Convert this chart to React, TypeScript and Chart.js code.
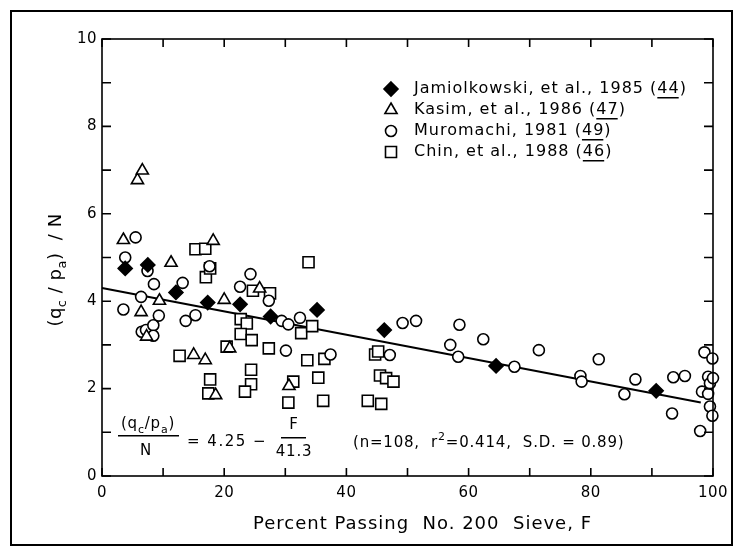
import React, { useEffect, useRef } from "react";
import { Chart, registerables } from "chart.js";
Chart.register(...registerables);

// ---- data ----
const jamiolkowski: number[][] = [
  [3.8, 4.75], [7.5, 4.83], [12.1, 4.2], [17.3, 3.97], [22.6, 3.93],
  [27.6, 3.65], [35.2, 3.8], [46.2, 3.34], [64.5, 2.52], [90.7, 1.95],
];
const kasim: number[][] = [
  [3.5, 5.4], [5.8, 6.77], [6.6, 6.99], [6.4, 3.75], [7.3, 3.19],
  [9.4, 4.01], [11.3, 4.88], [15.0, 2.77], [16.9, 2.65], [18.2, 5.38],
  [18.6, 1.85], [20.0, 4.03], [20.9, 2.92], [25.8, 4.29], [30.6, 2.06],
];
const muromachi: number[][] = [
  [3.5, 3.81], [3.8, 5.0], [5.5, 5.46], [6.4, 4.1], [6.5, 3.3],
  [7.2, 3.34], [7.45, 4.69], [8.4, 3.45], [8.4, 3.21], [8.5, 4.39],
  [9.3, 3.67], [13.2, 4.42], [13.7, 3.55], [15.3, 3.68], [17.6, 4.8],
  [22.6, 4.33], [24.3, 4.62], [27.3, 4.01], [29.4, 3.55], [30.5, 3.47],
  [30.1, 2.87], [32.4, 3.62], [37.4, 2.78], [47.1, 2.77], [49.2, 3.5],
  [51.4, 3.55], [57.0, 3.0], [58.3, 2.73], [58.5, 3.46], [62.4, 3.13],
  [67.5, 2.5], [71.5, 2.88], [78.3, 2.29], [78.5, 2.16], [81.3, 2.67],
  [85.5, 1.87], [87.3, 2.21], [93.3, 1.43], [93.5, 2.26], [95.4, 2.29],
  [97.9, 1.03], [98.2, 1.93], [98.6, 2.83], [99.2, 2.27], [99.2, 1.88],
  [99.5, 2.12], [99.5, 1.59], [99.9, 2.69], [99.9, 1.38], [100, 2.24],
];
const chin: number[][] = [
  [12.7, 2.75], [15.3, 5.19], [16.9, 5.2], [17.0, 4.55], [17.7, 4.75],
  [17.7, 2.21], [17.4, 1.89], [20.4, 2.96], [22.7, 3.59], [23.7, 3.49],
  [22.7, 3.25], [24.5, 3.11], [24.4, 2.43], [24.4, 2.1], [23.4, 1.93],
  [24.7, 4.24], [27.5, 4.18], [27.3, 2.92], [30.5, 1.68], [31.3, 2.16],
  [32.6, 3.27], [33.6, 2.65], [33.8, 4.89], [34.4, 3.43], [35.4, 2.25],
  [36.2, 1.72], [36.4, 2.68], [43.5, 1.72], [44.7, 2.78], [45.2, 2.85],
  [45.5, 2.3], [46.5, 2.24], [47.7, 2.16], [45.7, 1.65],
];
const regressionLine: number[][] = [[0, 4.3], [98, 1.68]];

const xTickLabels = [0, 20, 40, 60, 80, 100];
const yTickLabels = [0, 2, 4, 6, 8, 10];
const xMinorTicks = [0, 10, 20, 30, 40, 50, 60, 70, 80, 90, 100];
const yMinorTicks = [0, 1, 2, 3, 4, 5, 6, 7, 8, 9, 10];

const legendEntries = [
  { style: "diamond", pre: "Jamiolkowski, et al., 1985 (", ref: "44", post: ")" },
  { style: "triangle", pre: "Kasim, et al., 1986 (", ref: "47", post: ")" },
  { style: "circle", pre: "Muromachi, 1981 (", ref: "49", post: ")" },
  { style: "square", pre: "Chin, et al., 1988 (", ref: "46", post: ")" },
];

const FONT = '"DejaVu Sans", "Noto Sans", sans-serif';
const pts = (a: number[][]) => a.map(([x, y]) => ({ x, y }));

type Part = [string, "n" | "sub" | "sup"];

function setSpacing(ctx: any, px: number) {
  ctx.letterSpacing = `${px}px`;
}

function richWidth(ctx: CanvasRenderingContext2D, parts: Part[], size: number) {
  let w = 0;
  for (const [t, k] of parts) {
    ctx.font = `${k === "n" ? size : Math.round(size * 0.7)}px ${FONT}`;
    w += ctx.measureText(t).width;
  }
  return w;
}
function drawRich(ctx: CanvasRenderingContext2D, parts: Part[], x: number, y: number, size: number, align: "left" | "center") {
  const w = richWidth(ctx, parts, size);
  let cx = align === "center" ? x - w / 2 : x;
  ctx.textAlign = "left";
  ctx.textBaseline = "alphabetic";
  for (const [t, k] of parts) {
    const s = k === "n" ? size : Math.round(size * 0.7);
    ctx.font = `${s}px ${FONT}`;
    const dy = k === "sub" ? size * 0.3 : k === "sup" ? -size * 0.45 : 0;
    ctx.fillText(t, cx, y + dy);
    cx += ctx.measureText(t).width;
  }
}

function drawMarker(ctx: CanvasRenderingContext2D, style: string, x: number, y: number) {
  ctx.save();
  ctx.lineWidth = 1.6;
  ctx.strokeStyle = "#000";
  ctx.fillStyle = "#fff";
  ctx.beginPath();
  if (style === "diamond") {
    ctx.moveTo(x, y - 7); ctx.lineTo(x + 7, y); ctx.lineTo(x, y + 7); ctx.lineTo(x - 7, y); ctx.closePath();
    ctx.fillStyle = "#000"; ctx.fill(); ctx.stroke();
  } else if (style === "triangle") {
    const r = 7;
    ctx.moveTo(x, y - r); ctx.lineTo(x + r * 0.866, y + r / 2); ctx.lineTo(x - r * 0.866, y + r / 2); ctx.closePath();
    ctx.fill(); ctx.stroke();
  } else if (style === "circle") {
    ctx.arc(x, y, 5.5, 0, Math.PI * 2); ctx.fill(); ctx.stroke();
  } else {
    ctx.rect(x - 5.5, y - 5.5, 11, 11); ctx.fill(); ctx.stroke();
  }
  ctx.restore();
}

const decorPlugin = {
  id: "decor",
  beforeDraw(chart: any) {
    const ctx: CanvasRenderingContext2D = chart.ctx;
    ctx.save();
    ctx.fillStyle = "#fff";
    ctx.fillRect(0, 0, chart.width, chart.height);
    ctx.strokeStyle = "#000";
    ctx.lineWidth = 2;
    ctx.strokeRect(11, 11, 721, 534);
    ctx.restore();
  },
  afterDraw(chart: any) {
    const ctx: CanvasRenderingContext2D = chart.ctx;
    const xs = chart.scales.x, ys = chart.scales.y;
    const { left, right, top, bottom } = chart.chartArea;
    ctx.save();
    ctx.strokeStyle = "#000";
    ctx.fillStyle = "#000";
    ctx.lineWidth = 1.6;
    ctx.strokeRect(left, top, right - left, bottom - top);
    // inward ticks
    ctx.beginPath();
    for (const v of xMinorTicks) {
      const px = xs.getPixelForValue(v);
      ctx.moveTo(px, bottom); ctx.lineTo(px, bottom - 8);
      ctx.moveTo(px, top); ctx.lineTo(px, top + 8);
    }
    for (const v of yMinorTicks) {
      const py = ys.getPixelForValue(v);
      ctx.moveTo(left, py); ctx.lineTo(left + 9, py);
      ctx.moveTo(right, py); ctx.lineTo(right - 9, py);
    }
    ctx.stroke();
    // tick labels
    setSpacing(ctx, 0.5);
    ctx.font = `15px ${FONT}`;
    ctx.textAlign = "center";
    ctx.textBaseline = "middle";
    for (const v of xTickLabels) ctx.fillText(String(v), xs.getPixelForValue(v), bottom + 17);
    ctx.textAlign = "right";
    for (const v of yTickLabels) ctx.fillText(String(v), left - 5, ys.getPixelForValue(v));
    // axis titles
    setSpacing(ctx, 1);
    ctx.font = `18px ${FONT}`;
    ctx.textAlign = "center";
    ctx.textBaseline = "middle";
    ctx.fillText("Percent Passing  No. 200  Sieve, F", (left + right) / 2 + 15, 524);
    ctx.save();
    ctx.translate(55, 270);
    ctx.rotate(-Math.PI / 2);
    setSpacing(ctx, 0.5);
    drawRich(ctx, [["(q", "n"], ["c", "sub"], [" / p", "n"], ["a", "sub"], [")  / N", "n"]], 0, 6, 18, "center");
    ctx.restore();
    // legend
    legendEntries.forEach((e, i) => {
      const y = 89 + i * 21;
      drawMarker(ctx, e.style, 391, y);
      setSpacing(ctx, 1);
      ctx.font = `16px ${FONT}`;
      ctx.textAlign = "left";
      ctx.textBaseline = "middle";
      ctx.fillStyle = "#000";
      let x = 414;
      ctx.fillText(e.pre, x, y);
      x += ctx.measureText(e.pre).width;
      const rw = ctx.measureText(e.ref).width;
      ctx.fillText(e.ref, x, y);
      ctx.fillRect(x, y + 8, rw - 1, 1.5);
      x += rw;
      ctx.fillText(e.post, x, y);
    });
    // regression equation
    ctx.fillStyle = "#000";
    setSpacing(ctx, 0.8);
    drawRich(ctx, [["(q", "n"], ["c", "sub"], ["/p", "n"], ["a", "sub"], [")", "n"]], 148, 428, 15, "center");
    ctx.fillRect(118, 435, 61, 1.5);
    ctx.font = `15px ${FONT}`;
    ctx.textAlign = "center";
    ctx.textBaseline = "alphabetic";
    ctx.fillText("N", 146, 455);
    ctx.textAlign = "left";
    setSpacing(ctx, 1.5);
    ctx.fillText("= 4.25 \u2212", 187, 446);
    setSpacing(ctx, 0.8);
    ctx.textAlign = "center";
    ctx.fillText("F", 294, 429);
    ctx.fillRect(281, 437, 25, 1.5);
    ctx.fillText("41.3", 294, 456);
    drawRich(ctx, [["(n=108,  r", "n"], ["2", "sup"], ["=0.414,  S.D. = 0.89)", "n"]], 353, 447, 15, "left");
    ctx.restore();
  },
};

export default function App() {
  const ref = useRef<HTMLCanvasElement>(null);
  useEffect(() => {
    document.body.style.margin = "0";
    const common = { borderColor: "#000", borderWidth: 1.6, backgroundColor: "#fff", clip: false as any };
    const chart = new Chart(ref.current!, {
      type: "scatter",
      data: {
        datasets: [
          { ...common, label: "Jamiolkowski", data: pts(jamiolkowski), pointStyle: "rectRot", pointRadius: 7, backgroundColor: "#000" },
          { ...common, label: "Kasim", data: pts(kasim), pointStyle: "triangle", pointRadius: 7 },
          { ...common, label: "Muromachi", data: pts(muromachi), pointStyle: "circle", pointRadius: 5.5 },
          { ...common, label: "Chin", data: pts(chin), pointStyle: "rect", pointRadius: 7.8 },
          { type: "line" as any, label: "fit", data: pts(regressionLine), borderColor: "#000", borderWidth: 2, pointRadius: 0, showLine: true, fill: false, clip: false as any },
        ] as any,
      },
      options: {
        animation: false,
        responsive: false,
        maintainAspectRatio: false,
        events: [],
        layout: { padding: { left: 102, right: 22, top: 39, bottom: 71 } },
        plugins: { legend: { display: false }, tooltip: { enabled: false } },
        scales: {
          x: { type: "linear", min: 0, max: 100, display: false },
          y: { type: "linear", min: 0, max: 10, display: false },
        },
      },
      plugins: [decorPlugin],
    });
    return () => chart.destroy();
  }, []);
  return (
    <div style={{ position: "fixed", left: 0, top: 0, width: 735, height: 547 }}>
      <canvas ref={ref} width={735} height={547} style={{ display: "block" }} />
    </div>
  );
}
